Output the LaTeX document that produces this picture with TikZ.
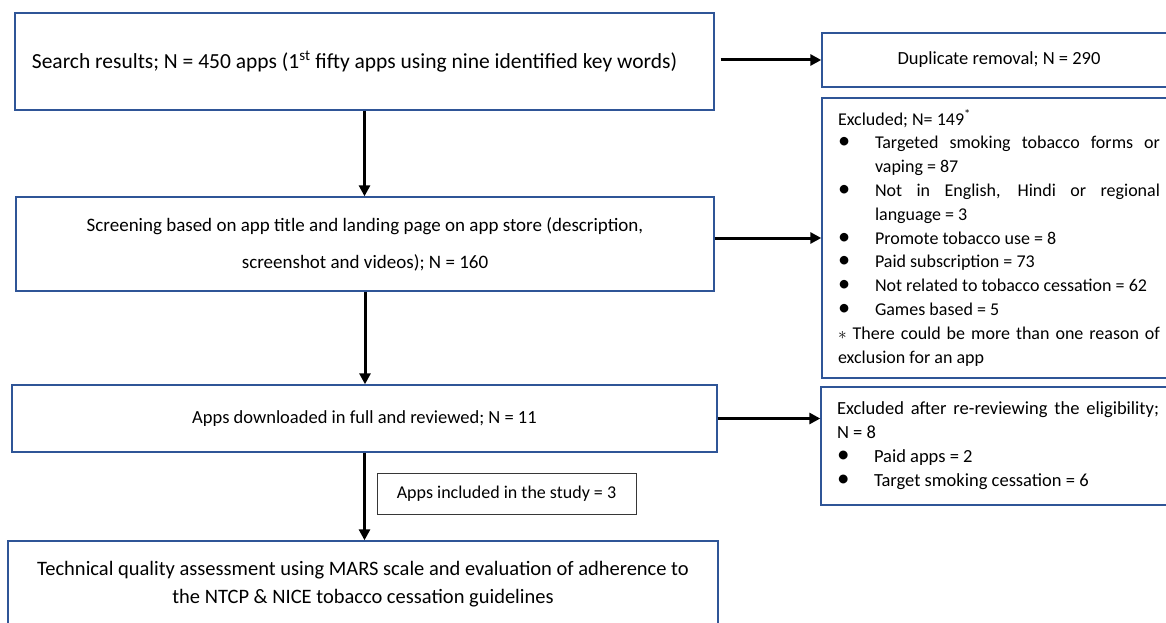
\documentclass[tikz,border=0pt]{standalone}
\usepackage{fontspec}
\setmainfont{Carlito}
\usetikzlibrary{arrows.meta}

\definecolor{boxblue}{RGB}{47,85,151}
\definecolor{noteline}{RGB}{55,55,55}

% bullet line with hanging indent
\newcommand{\exitem}[1]{\par\hangindent=37pt\hangafter=1\noindent\makebox[37pt][l]{\hspace{0pt}\scalebox{1.35}{\textbullet}}#1}

\begin{document}
\begin{tikzpicture}[x=1pt, y=-1pt,
    every node/.style={font=\fontsize{17}{21}\selectfont, inner sep=0pt},
    stagebox/.style={draw=boxblue, line width=1.4pt, align=center},
    sidebox/.style={draw=boxblue, line width=1.4pt, inner xsep=16pt, text width=322pt, align=justify},
    notebox/.style={draw=noteline, line width=0.9pt, font=\fontsize{18}{20}\selectfont},
    arr/.style={-{Triangle[length=11pt,width=11pt]}, line width=3pt}]

    \useasboundingbox (0,0) rectangle (1166,623);

    % main column
    \node[stagebox, minimum width=699pt, minimum height=97pt, font=\fontsize{21.5}{24}\selectfont] (A) at (364.5,61.5)
        {Search results; N = 450 apps (1\textsuperscript{st} fifty apps using nine identified key words)\kern20pt};
    \node[stagebox, minimum width=698pt, minimum height=94pt, font=\fontsize{19}{37}\selectfont] (B) at (365,244)
        {Screening based on app title and landing page on app store (description,\\screenshot and videos); N = 160};
    \node[stagebox, minimum width=705pt, minimum height=67pt, font=\fontsize{18.5}{22}\selectfont] (C) at (364.5,418.5)
        {Apps downloaded in full and reviewed; N = 11};
    \node[stagebox, minimum width=710pt, minimum height=86pt, font=\fontsize{20.5}{28.5}\selectfont] (D) at (363,584)
        {Technical quality assessment using MARS scale and evaluation of adherence to\\the NTCP \& NICE tobacco cessation guidelines};
    \node[notebox, minimum width=259pt, minimum height=41pt] (N) at (506.5,493.5)
        {Apps included in the study = 3};

    % side column
    \node[stagebox, minimum width=354pt, minimum height=54pt, font=\fontsize{18.5}{22}\selectfont] (E) at (999,60)
        {Duplicate removal; N = 290};
    \node[sidebox, minimum height=280pt, font=\fontsize{18}{23.8}\selectfont] (F) at (999,238)
        {Excluded; N= 149\textsuperscript{*}
        \exitem{Targeted smoking tobacco forms or\linebreak vaping = 87}
        \exitem{Not in English, Hindi or regional\linebreak language = 3}
        \exitem{Promote tobacco use = 8}
        \exitem{Paid subscription = 73}
        \exitem{Not related to tobacco cessation = 62}
        \exitem{Games based = 5}
        \par\noindent$*$ There could be more than one reason of\linebreak exclusion for an app};
    \node[sidebox, minimum height=118pt, font=\fontsize{18.5}{24}\selectfont] (G) at (998,446)
        {Excluded after re-reviewing the eligibility;\linebreak N = 8
        \exitem{Paid apps = 2}
        \exitem{Target smoking cessation = 6}};

    % connectors
    \draw[arr] (A.south) -- (A.south |- B.north);
    \draw[arr] (B.south) -- (B.south |- C.north);
    \draw[arr] (C.south) -- (C.south |- D.north);
    \draw[arr, shorten <=6pt] (A.east |- E.west) -- (E.west);
    \draw[arr] (B.east |- F.west) -- (F.west);
    \draw[arr] (C.east) -- (C.east -| G.west);
\end{tikzpicture}
\end{document}
